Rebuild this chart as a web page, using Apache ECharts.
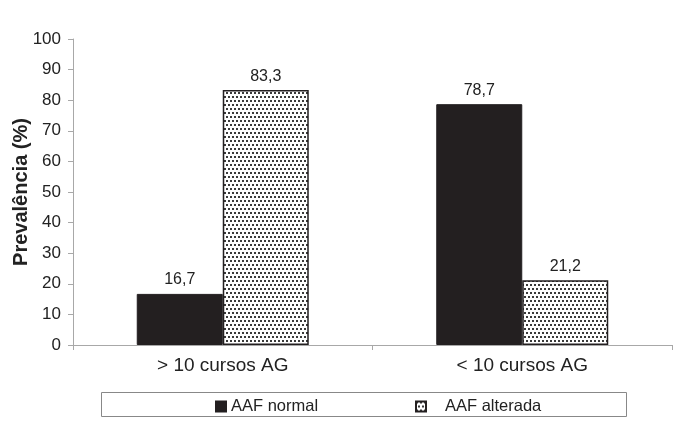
<!DOCTYPE html>
<html>
<head>
<meta charset="utf-8">
<script src="https://cdn.jsdelivr.net/npm/echarts@6/dist/echarts.min.js"></script>
<style>html,body{margin:0;padding:0;background:#fff}#c{width:700px;height:430px}</style>
</head>
<body>
<div id="c"></div>
<script>
var categories = ['> 10 cursos AG', '< 10 cursos AG'];
var seriesNames = ['AAF normal', 'AAF alterada'];
var normalValues = [16.7, 78.7];
var alteradaValues = [83.3, 21.2];
var yTicks = [0, 10, 20, 30, 40, 50, 60, 70, 80, 90, 100];

function dotCanvas() {
  var c = document.createElement('canvas');
  c.width = 4; c.height = 8;
  var ctx = c.getContext('2d');
  ctx.fillStyle = '#ffffff';
  ctx.fillRect(0, 0, 4, 8);
  ctx.fillStyle = '#3a3a3a';
  ctx.fillRect(0, 0, 2, 2);
  ctx.fillRect(2, 4, 2, 2);
  return c;
}
var pattern = { image: dotCanvas(), repeat: 'repeat' };

var fontFam = 'Liberation Sans, Arial, sans-serif';
var chart = echarts.init(document.getElementById('c'), null, { renderer: 'canvas' });
var labelFmt = function (p) { return String(p.value).replace('.', ','); };

chart.setOption({
  animation: false,
  backgroundColor: '#ffffff',
  grid: { left: 73, right: 28, top: 39, bottom: 85, containLabel: false, outerBoundsMode: 'none' },
  xAxis: {
    type: 'category',
    data: categories,
    axisLine: { lineStyle: { color: '#a8a8a8', width: 1 } },
    axisTick: { show: true, alignWithLabel: false, length: 5, lineStyle: { color: '#a8a8a8' } },
    axisLabel: { color: '#222', fontSize: 19, fontFamily: fontFam, margin: 11 }
  },
  yAxis: {
    type: 'value',
    min: yTicks[0],
    max: yTicks[yTicks.length - 1],
    interval: 10,
    name: 'Prevalência (%)',
    nameLocation: 'middle',
    nameGap: 42,
    nameMoveOverlap: false,
    nameTextStyle: { color: '#222', fontSize: 20, fontWeight: 'bold', fontFamily: fontFam },
    axisLine: { show: true, lineStyle: { color: '#a8a8a8', width: 1 } },
    axisTick: { show: true, length: 5, lineStyle: { color: '#a8a8a8' } },
    axisLabel: { color: '#222', fontSize: 17, fontFamily: fontFam, margin: 12 },
    splitLine: { show: false }
  },
  legend: [{
    left: 210,
    top: 393,
    itemWidth: 10,
    itemHeight: 10,
    itemGap: 0,
    textStyle: { color: '#222', fontSize: 16.5, fontFamily: fontFam },
    data: [{ name: seriesNames[0], icon: 'rect' }]
  }, {
    left: 410,
    top: 393,
    itemWidth: 10,
    itemHeight: 10,
    itemGap: 0,
    textStyle: { color: '#222', fontSize: 16.5, fontFamily: fontFam, padding: [0, 0, 0, 14] },
    data: [{ name: seriesNames[1], icon: 'rect' }]
  }],
  graphic: [{
    type: 'rect',
    shape: { x: 101.5, y: 392.5, width: 525, height: 24 },
    style: { fill: 'none', stroke: '#888', lineWidth: 1 },
    z: 100
  }],
  series: [
    {
      name: seriesNames[0],
      type: 'bar',
      data: normalValues,
      barWidth: 86,
      barGap: '0%',
      itemStyle: { color: '#231f20', borderColor: '#231f20', borderWidth: 1 },
      label: { show: true, position: 'top', distance: 6, color: '#222', fontSize: 16, fontFamily: fontFam, formatter: labelFmt }
    },
    {
      name: seriesNames[1],
      type: 'bar',
      data: alteradaValues,
      barWidth: 86,
      barGap: '0%',
      itemStyle: { color: pattern, borderColor: '#231f20', borderWidth: 1.5 },
      label: { show: true, position: 'top', distance: 6, color: '#222', fontSize: 16, fontFamily: fontFam, formatter: labelFmt }
    }
  ]
});
</script>
</body>
</html>
